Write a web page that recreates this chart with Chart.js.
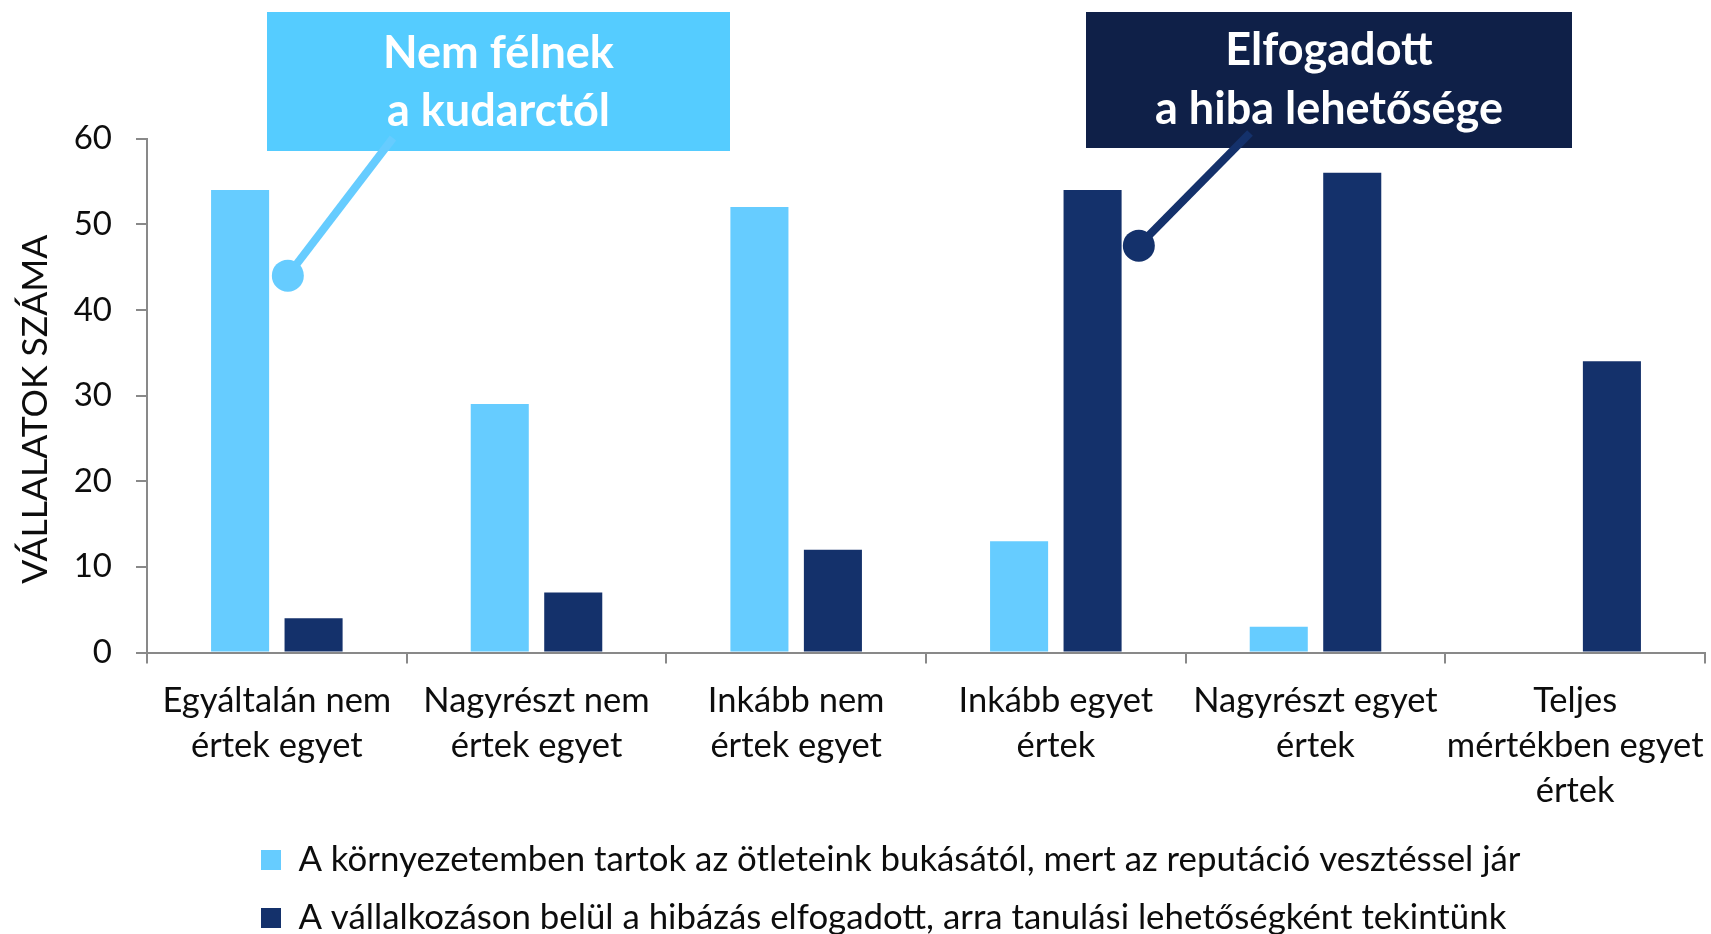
<!DOCTYPE html>
<html><head><meta charset="utf-8">
<script src="https://cdn.jsdelivr.net/npm/chart.js@4.4.1/dist/chart.umd.min.js"></script>
<style>html,body{margin:0;padding:0;background:#fff;overflow:hidden}canvas{display:block}</style>
</head><body>
<canvas id="c" width="1711" height="934"></canvas>
<script>
const categories = [
  ['Egyáltalán nem', 'értek egyet'],
  ['Nagyrészt nem', 'értek egyet'],
  ['Inkább nem', 'értek egyet'],
  ['Inkább egyet', 'értek'],
  ['Nagyrészt egyet', 'értek'],
  ['Teljes', 'mértékben egyet', 'értek']
];
const seriesNames = [
  'A környezetemben tartok az ötleteink bukásától, mert az reputáció vesztéssel jár',
  'A vállalkozáson belül a hibázás elfogadott, arra tanulási lehetőségként tekintünk'
];
const fearValues = [54, 29, 52, 13, 3, 0];
const acceptValues = [4, 7, 12, 54, 56, 34];
const yTicks = [0, 10, 20, 30, 40, 50, 60];
const axisTitle = 'VÁLLALATOK SZÁMA';
const calloutTexts = [['Nem félnek', 'a kudarctól'], ['Elfogadott', 'a hiba lehetősége']];

const LIGHT = '#66CCFF', DARK = '#14316B', AXIS = '#898989', TXT = '#0d0d0d';
const FONT = 'Lato, "Open Sans", sans-serif';
const LEG_PAD = 23.2;

const legendShift = {
  id: 'legendShift',
  beforeDraw(chart) {
    if (chart.legend) chart.legend.left = 261 - LEG_PAD;
  }
};

const callouts = {
  id: 'callouts',
  afterDraw(chart) {
    const ctx = chart.ctx, xs = chart.scales.x, ys = chart.scales.y;
    const defs = [
      {box: [267, 12, 463, 139], fill: '#55CCFF', line: LIGHT, from: [393, 138],
       dot: [xs.getPixelForValue(0) + 11, ys.getPixelForValue(44)], text: calloutTexts[0], cx: 498.5, base: [68, 126]},
      {box: [1086, 12, 486, 136], fill: '#0F2048', line: DARK, from: [1250, 133],
       dot: [xs.getPixelForValue(3) + 83, ys.getPixelForValue(47.5)], text: calloutTexts[1], cx: 1329, base: [65, 124]}
    ];
    ctx.save();
    defs.forEach(d => {
      ctx.fillStyle = d.fill;
      ctx.fillRect(d.box[0], d.box[1], d.box[2], d.box[3]);
      ctx.strokeStyle = d.line;
      ctx.lineWidth = 8;
      ctx.lineCap = 'butt';
      ctx.beginPath();
      ctx.moveTo(d.from[0], d.from[1]);
      ctx.lineTo(d.dot[0], d.dot[1]);
      ctx.stroke();
      ctx.fillStyle = d.line;
      ctx.beginPath();
      ctx.arc(d.dot[0], d.dot[1], 16, 0, Math.PI * 2);
      ctx.fill();
      ctx.fillStyle = '#ffffff';
      ctx.font = 'bold 45px ' + FONT;
      ctx.textAlign = 'center';
      ctx.textBaseline = 'alphabetic';
      d.text.forEach((t, i) => ctx.fillText(t, d.cx, d.base[i]));
    });
    ctx.restore();
  }
};

new Chart(document.getElementById('c'), {
  type: 'bar',
  data: {
    labels: categories,
    datasets: [
      {label: seriesNames[0], data: fearValues, backgroundColor: LIGHT, borderWidth: 0},
      {label: seriesNames[1], data: acceptValues, backgroundColor: DARK, borderWidth: 0}
    ]
  },
  options: {
    responsive: false,
    animation: false,
    devicePixelRatio: 1,
    events: [],
    categoryPercentage: 0.566,
    barPercentage: 0.79,
    layout: {padding: {top: 138.6, left: 0, right: 6, bottom: 0}},
    plugins: {
      tooltip: {enabled: false},
      legend: {
        position: 'bottom',
        align: 'start',
        maxHeight: 114.6,
        labels: {
          boxWidth: 20, boxHeight: 20, padding: LEG_PAD,
          color: TXT,
          font: {family: FONT, size: 34.8}
        }
      }
    },
    scales: {
      x: {
        offset: true,
        grid: {offset: true, drawOnChartArea: false, drawTicks: true, tickLength: 11, color: AXIS, lineWidth: 2},
        border: {color: AXIS, width: 2},
        ticks: {color: TXT, padding: 15, maxRotation: 0, autoSkip: false,
                font: {family: FONT, size: 34.5, lineHeight: 45 / 34.5}},
        afterFit(scale) { scale.height = 166.9; scale.paddingLeft = 0; scale.paddingRight = 0; }
      },
      y: {
        min: 0, max: 60,
        afterBuildTicks(scale) { scale.ticks = yTicks.map(v => ({value: v})); },
        grid: {drawOnChartArea: false, drawTicks: true, tickLength: 11, color: AXIS, lineWidth: 2},
        border: {color: AXIS, width: 2},
        ticks: {color: TXT, padding: 24, font: {family: FONT, size: 33}},
        title: {display: true, text: axisTitle + '   ', color: TXT, padding: {top: 14, bottom: 0},
                font: {family: FONT, size: 35.5}},
        afterFit(scale) { scale.width = 147; }
      }
    }
  },
  plugins: [legendShift, callouts]
});
</script>
</body></html>
